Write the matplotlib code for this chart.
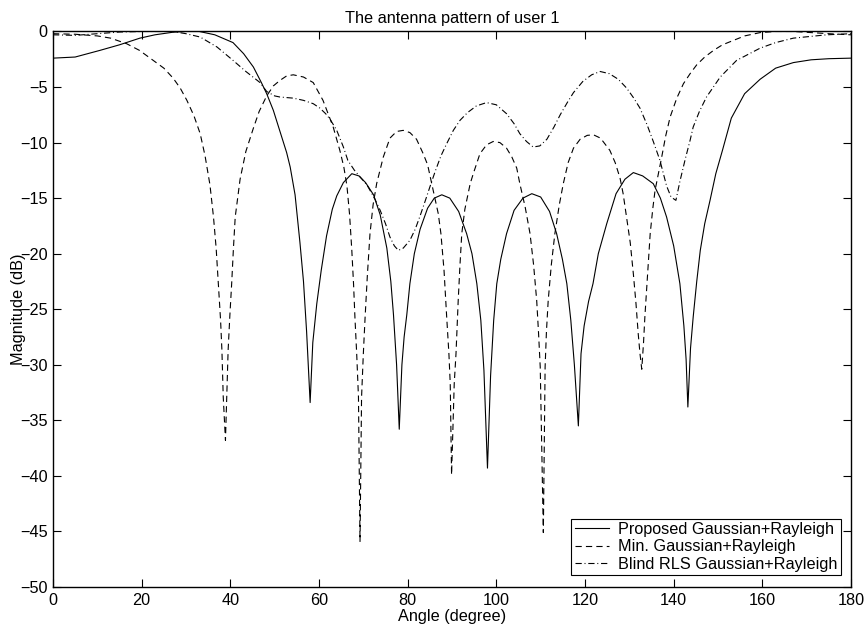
import matplotlib.pyplot as plt

plt.rcParams['font.family'] = ['Liberation Sans', 'DejaVu Sans']
plt.rcParams['lines.scale_dashes'] = False

# Proposed Gaussian+Rayleigh (solid)
prop_x = [0, 5, 10.6, 15, 19.6, 23, 27, 30, 33, 36.5, 40.6, 43, 45.2, 47, 48.2, 49.7,
          51.2, 52.7, 53.5, 54.6, 55.7, 56.5, 57.2, 58, 58.6, 59.5, 60.5, 61.7, 63, 64,
          65.5, 67.4, 69, 70.5, 72.3, 73.8, 75.3, 76.2, 76.8, 77.5, 78.1, 78.7, 79.2,
          79.8, 80.5, 81.5, 82.8, 84.5, 86, 87.7, 89.5, 91.5, 93.3, 94.5, 95.6, 96.5,
          97.2, 98, 98.7, 99.4, 100.1, 101, 102.3, 104, 106, 108, 110, 112, 113.6,
          114.9, 115.9, 116.8, 117.6, 118.5, 119.1, 119.8, 120.8, 121.8, 123, 124.9,
          127, 129, 130.9, 133, 135.4, 137, 138.4, 140, 141.4, 142.3, 142.8, 143.2,
          143.8, 144.4, 145.2, 146, 147, 148.2, 149.5, 151, 153, 156, 159.5, 163, 167,
          171, 175, 180]
prop_y = [-2.4, -2.3, -1.7, -1.2, -0.6, -0.3, -0.07, 0, 0, -0.3, -1.0, -2.0, -3.2, -4.6,
          -5.6, -7.1, -9.0, -10.9, -12.2, -14.7, -19.0, -22.5, -27, -33.4, -28, -24.5,
          -21.5, -18.4, -16, -14.8, -13.6, -12.8, -13.0, -13.6, -14.7, -16.5, -19.5,
          -22.5, -25.5, -30, -35.8, -30, -27.5, -25.5, -22.7, -20, -17.8, -15.9, -15.0,
          -14.7, -15.0, -16.2, -18.2, -20, -22.7, -26, -30.5, -39.3, -31, -26, -22.7,
          -20.5, -18.2, -16.1, -15.0, -14.6, -14.9, -16.2, -18.2, -20.5, -22.7, -26, -30,
          -35.5, -29, -26.5, -24.3, -22.7, -20, -17.3, -14.6, -13.3, -12.7, -13.0, -13.7,
          -15.0, -16.7, -19.3, -22.7, -26.5, -29.5, -33.8, -28.5, -25.7, -22.5, -19.7,
          -17.3, -15.2, -12.8, -10.7, -7.8, -5.6, -4.3, -3.3, -2.8, -2.55, -2.45, -2.4]

# Min. Gaussian+Rayleigh (dashed)
min_x = [0, 5, 10, 13, 16.6, 19.5, 22.6, 25, 27.1, 28.7, 30.2, 31.8, 33.2, 34.3, 35.4,
         36.2, 36.8, 37.3, 37.8, 38.1, 38.4, 38.9, 39.2, 39.5, 39.9, 40.3, 40.7, 41.1,
         42.2, 43.5, 45.2, 46.5, 48.2, 49.7, 51.2, 52.7, 54.2, 56.5, 58.7, 60.9, 63.2,
         64.7, 65.6, 66.3, 66.9, 67.4, 67.8, 68.1, 68.5, 68.9, 69.25, 69.6, 70.0, 70.4,
         70.9, 71.5, 72.2, 73, 74.5, 76, 77.5, 79, 80.5, 82, 83.5, 84.5, 85.8, 86.9,
         87.5, 88.2, 88.8, 89.3, 89.6, 89.9, 90.5, 90.9, 91.4, 91.8, 92.2, 92.9, 94.1,
         94.8, 96.3, 97.8, 99.3, 100.8, 102.3, 103.5, 104.6, 105.3, 106.5, 107.6, 108.4,
         109.1, 109.5, 109.9, 110.6, 111, 111.3, 111.7, 112.4, 113.2, 114.2, 115.1, 116.2,
         117.4, 118.9, 120.5, 121.9, 123.5, 125.6, 126.8, 127.9, 128.6, 129.3, 130.2,
         130.9, 131.5, 132, 132.4, 132.8, 133.2, 133.5, 134.1, 134.7, 135.3, 135.8, 137.3,
         138.2, 139.2, 140.7, 142.2, 143.7, 145.2, 147, 149, 151, 153.5, 156, 159.5, 163,
         167, 171, 175, 180]
min_y = [-0.2, -0.25, -0.4, -0.6, -1.1, -1.7, -2.6, -3.3, -4.2, -5.1, -6.2, -7.6, -9.2,
         -11.2, -13.8, -16.7, -19.5, -22.7, -26, -28.7, -32.9, -36.8, -32.9, -28.7, -25.5,
         -22.7, -19.5, -16.7, -13.3, -10.8, -8.7, -7.2, -5.8, -4.9, -4.4, -4.0, -3.9,
         -4.1, -4.6, -6.2, -8.6, -10.7, -12.2, -13.9, -16.5, -19.7, -22.8, -25.7, -29,
         -32.9, -45.9, -32.9, -29, -25.7, -22, -18.2, -15.6, -13.7, -11.3, -9.6, -9.0,
         -8.9, -9.1, -9.7, -11, -12, -14.4, -16.4, -18.2, -21.5, -25.7, -29, -31.7, -39.9,
         -31.7, -29, -24.2, -21, -18.2, -16, -13.7, -12.8, -11.0, -10.2, -9.9, -10.0,
         -10.5, -11.3, -12.3, -13.7, -15.8, -18.2, -21, -24.2, -27, -30.2, -45.1, -30.2,
         -27, -24.2, -21, -18.2, -15.6, -13.7, -11.8, -10.5, -9.7, -9.35, -9.3, -9.6,
         -10.7, -11.8, -13.2, -14.6, -16.5, -19, -21.8, -24.5, -27.2, -29, -30.4, -28,
         -25.7, -22, -18.2, -15.9, -14.3, -11.3, -9.4, -7.7, -6.0, -4.7, -3.8, -3.0, -2.3,
         -1.7, -1.2, -0.8, -0.4, -0.1, 0, 0, -0.1, -0.2, -0.3]

# Blind RLS Gaussian+Rayleigh (dash-dot)
rls_x = [0, 5, 10, 15, 20, 27, 30, 33.2, 37, 40.6, 43.5, 46.7, 48.2, 50, 51.2, 54.2,
         56.5, 58.7, 60.2, 61.5, 62.5, 64, 65.5, 66.5, 68, 70.8, 72.5, 73.8, 75, 76, 77,
         77.9, 79, 80.5, 81.7, 82.8, 84, 85, 86.2, 87.5, 88.8, 90.3, 91.8, 93.5, 95.5,
         97.8, 100, 102.3, 104, 105.3, 106.8, 108.3, 109.8, 111.4, 113, 114.4, 116,
         117.4, 119.5, 121.5, 123.4, 125.5, 127.5, 129.4, 131, 132.4, 134, 135.4, 136.9,
         138.4, 139.4, 140.5, 141.4, 142.6, 143.7, 144.4, 145.8, 147.4, 150.5, 154.2,
         159.5, 163, 167, 174.5, 180]
rls_y = [-0.3, -0.35, -0.2, -0.05, 0, 0, -0.2, -0.5, -1.4, -2.6, -3.6, -4.6, -5.4, -5.8,
         -5.9, -6.0, -6.2, -6.5, -6.9, -7.4, -7.9, -8.9, -10.4, -11.6, -12.5, -13.8, -15,
         -16.1, -17.3, -18.5, -19.3, -19.7, -19.5, -18.8, -17.8, -16.6, -15.2, -14.0,
         -12.6, -11.2, -10.1, -8.9, -8.0, -7.3, -6.7, -6.4, -6.6, -7.4, -8.3, -9.2, -9.9,
         -10.4, -10.3, -9.7, -8.6, -7.5, -6.4, -5.5, -4.5, -3.9, -3.6, -3.8, -4.3, -5.1,
         -6.0, -6.9, -8.4, -9.9, -11.6, -13.9, -14.9, -15.2, -13.5, -11.5, -9.8, -8.6,
         -7.2, -5.9, -4.1, -2.6, -1.5, -1.0, -0.6, -0.3, -0.2]

labels = ['Proposed Gaussian+Rayleigh', 'Min. Gaussian+Rayleigh',
          'Blind RLS Gaussian+Rayleigh']

fs = 11.7

fig = plt.figure(figsize=(8.66, 6.27), dpi=100)
ax = fig.add_axes([0.0612, 0.0638, 0.9215, 0.886])

ax.plot(prop_x, prop_y, color='black', lw=0.8, label=labels[0])
ax.plot(min_x, min_y, color='black', lw=0.8, dashes=(4.5, 3), label=labels[1])
ax.plot(rls_x, rls_y, color='black', lw=0.8, dashes=(4.5, 2, 0.7, 2), label=labels[2])

ax.set_xlim(0, 180)
ax.set_ylim(-50, 0)
ax.set_xticks(range(0, 181, 20))
ax.set_yticks(range(-50, 1, 5))
ax.tick_params(direction='in', length=6, width=0.8, top=True, right=True,
               labelsize=fs, pad=4)
for s in ax.spines.values():
    s.set_linewidth(1.0)

ax.set_title('The antenna pattern of user 1', fontsize=fs, pad=6)
ax.set_xlabel('Angle (degree)', fontsize=fs)
ax.set_ylabel('Magnitude (dB)', fontsize=fs)
ax.xaxis.set_label_coords(0.5, -0.04)
ax.yaxis.set_label_coords(-0.034, 0.5)

leg = ax.legend(loc='lower right', bbox_to_anchor=(0.9875, 0.0215), fontsize=fs,
                fancybox=False, framealpha=1, edgecolor='black', borderaxespad=0,
                handlelength=2.1, handletextpad=0.6, borderpad=0.2, labelspacing=0.15)
leg.get_frame().set_linewidth(0.8)

fig.savefig('out.png', dpi=100)
